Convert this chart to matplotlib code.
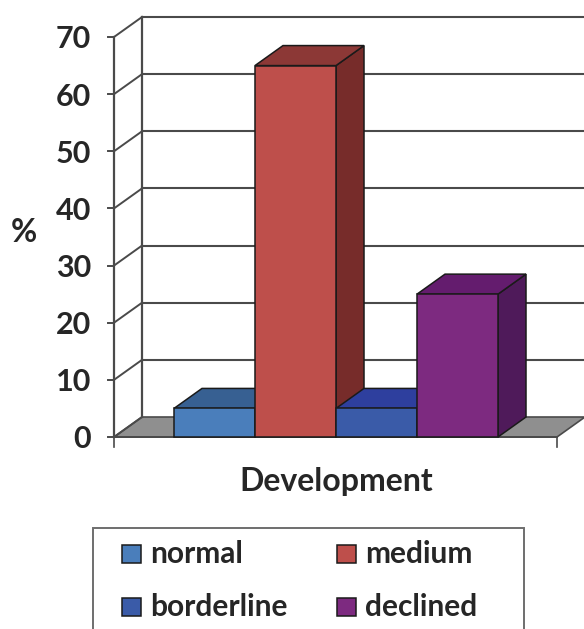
import matplotlib
matplotlib.use("Agg")
import matplotlib.pyplot as plt
from matplotlib.patches import Polygon, Rectangle

categories = ["normal", "medium", "borderline", "declined"]
values = [5, 65, 5, 25]
front_colors = ["#4A7EBB", "#BE4F4B", "#3A5BA8", "#7D2A80"]
top_colors = ["#376092", "#8C3836", "#2E3F9E", "#641C6E"]
side_colors = ["#2F5580", "#772C2A", "#26337F", "#4F1A5A"]
y_ticks = [0, 10, 20, 30, 40, 50, 60, 70]

plt.rcParams["font.family"] = ["Lato", "DejaVu Sans"]
plt.rcParams["font.weight"] = "bold"

W, H = 584, 629
PX_X = 81.0            # pixels per bar
PX_Y = 400.0 / 70      # pixels per %
X0, Y0 = 174, 437      # pixel of x=0, y=0

fig = plt.figure(figsize=(W / 100, H / 100), dpi=100)
ax = fig.add_axes([0, 0, 1, 1])
ax.set_xlim(-X0 / PX_X, (W - X0) / PX_X)
ax.set_ylim(-(H - Y0) / PX_Y, Y0 / PX_Y)
ax.axis("off")

dx = 28 / PX_X         # depth of the box
dy = 20 / PX_Y
left = (114 - X0) / PX_X
right = (557 - X0) / PX_X
ink = "#4A4A4A"
txt = "#262626"

# floor
ax.add_patch(Polygon([(left, 0), (right, 0), (right + dx, dy), (left + dx, dy)],
                     fc="#8F8F8F", ec=ink, lw=1.2, zorder=1))

# walls, gridlines
ax.plot([left, left], [0, 70], color=ink, lw=1.6, zorder=2)
ax.plot([left + dx, left + dx], [dy, 70 + dy], color=ink, lw=1.6, zorder=2)
for v in y_ticks:
    if v > 0:
        ax.plot([left + dx, right + dx + 1], [v + dy, v + dy], color=ink, lw=1.5, zorder=2)
    ax.plot([left, left + dx], [v, v + dy], color=ink, lw=1.4, zorder=2)
    ax.plot([left - 6 / PX_X, left], [v, v], color=ink, lw=1.4, zorder=2)
    ax.text(left - 23 / PX_X, v, str(v), ha="right", va="center_baseline",
            fontsize=22, color=txt, zorder=5)

# bottom ticks
ax.plot([left, right], [0, 0], color=ink, lw=1.4, zorder=2)
for xt in [left, right]:
    ax.plot([xt, xt], [0, -10 / PX_Y], color=ink, lw=1.2, zorder=2)

# bars, left to right so the later ones cover the earlier sides
edge = "#1A1A1A"
for i, val in enumerate(values):
    z = 3 + i * 0.1
    ax.add_patch(Polygon([(i + 1, 0), (i + 1 + dx, dy), (i + 1 + dx, val + dy), (i + 1, val)],
                         fc=side_colors[i], ec=edge, lw=1.1, zorder=z))
    ax.add_patch(Polygon([(i, val), (i + 1, val), (i + 1 + dx, val + dy), (i + dx, val + dy)],
                         fc=top_colors[i], ec=edge, lw=1.1, zorder=z))
    ax.bar(i, val, width=1, align="edge", color=front_colors[i], edgecolor=edge, lw=1.1, zorder=z)

ax.text((24 - X0) / PX_X, (437 - 232) / PX_Y, "%", ha="center", va="center",
        fontsize=23, color=txt)
ax.text((336 - X0) / PX_X, (437 - 481) / PX_Y, "Development", ha="center", va="center",
        fontsize=23, color=txt)

# legend box runs off the bottom of the picture
ax.add_patch(Rectangle(((93 - X0) / PX_X, (437 - 640) / PX_Y), 431 / PX_X, 112 / PX_Y,
                       fc="white", ec="#6E6E6E", lw=1.4, zorder=2))
leg_x = [122, 122 + 215]
leg_y = [554, 607]
order = [(0, 0, 0), (1, 1, 0), (2, 0, 1), (3, 1, 1)]
for i, col, row in order:
    px, py = leg_x[col], leg_y[row]
    ax.add_patch(Rectangle(((px - X0) / PX_X, (437 - py - 9) / PX_Y), 19 / PX_X, 18 / PX_Y,
                           fc=front_colors[i], ec=edge, lw=1.1, zorder=3))
    ax.text((px + 28 - X0) / PX_X, (437 - py) / PX_Y, categories[i], ha="left",
            va="center", fontsize=21.5, color=txt, zorder=3)

fig.savefig("out.png", dpi=100)
